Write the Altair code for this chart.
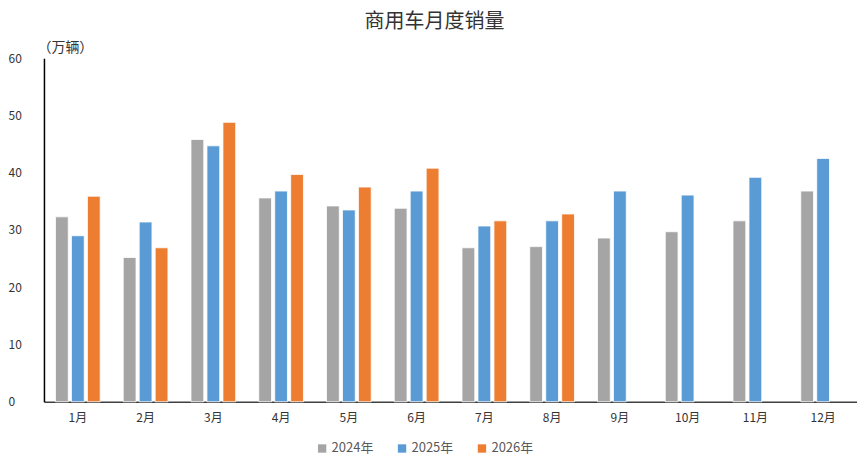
import altair as alt
import pandas as pd

months = ["1月", "2月", "3月", "4月", "5月", "6月", "7月", "8月", "9月", "10月", "11月", "12月"]
years = ["2024年", "2025年", "2026年"]
sales_2024 = [32.3, 25.2, 45.8, 35.6, 34.2, 33.8, 26.9, 27.1, 28.6, 29.7, 31.6, 36.8]
sales_2025 = [29.0, 31.4, 44.7, 36.8, 33.5, 36.8, 30.7, 31.6, 36.8, 36.1, 39.2, 42.5]
sales_2026 = [35.9, 26.9, 48.8, 39.7, 37.5, 40.8, 31.6, 32.8]
colors = ["#A5A5A5", "#5B9BD5", "#ED7D31"]

rows = []
for year, series in zip(years, [sales_2024, sales_2025, sales_2026]):
    for month, value in zip(months, series):
        rows.append({"month": month, "year": year, "sales": value})
df = pd.DataFrame(rows)

font = "Noto Sans CJK SC"

bars = (
    alt.Chart(df)
    .mark_bar(stroke="white", strokeWidth=0.8)
    .encode(
        x=alt.X(
            "month:N",
            sort=months,
            scale=alt.Scale(paddingInner=0.34, paddingOuter=0.17),
            axis=alt.Axis(
                title=None,
                labelAngle=0,
                ticks=False,
                domainColor="#404040",
                domainWidth=1.5,
                labelPadding=11,
                labelFontSize=12,
                labelColor="#333333",
                labelFont=font,
            ),
        ),
        xOffset=alt.XOffset(
            "year:N",
            sort=years,
            scale=alt.Scale(domain=years, paddingInner=0.2),
        ),
        y=alt.Y(
            "sales:Q",
            scale=alt.Scale(domain=[0, 60]),
            axis=alt.Axis(
                values=[0, 10, 20, 30, 40, 50, 60],
                grid=False,
                ticks=False,
                domainColor="#000000",
                domainWidth=1.5,
                labelPadding=36,
                labelAlign="left",
                labelFontSize=12,
                labelColor="#333333",
                labelFont=font,
                title="（万辆）",
                titleAngle=0,
                titleAlign="left",
                titleBaseline="middle",
                titleX=-7,
                titleY=-11,
                titleFontSize=14,
                titleFontWeight="normal",
                titleColor="#333333",
                titleFont=font,
            ),
        ),
        color=alt.Color(
            "year:N",
            scale=alt.Scale(domain=years, range=colors),
            legend=alt.Legend(
                title=None,
                orient="none",
                direction="horizontal",
                legendX=272,
                legendY=384,
                symbolType="square",
                symbolSize=70,
                symbolStrokeWidth=0,
                labelFontSize=13,
                labelColor="#595959",
                labelFont=font,
                columnPadding=22,
                labelOffset=3,
            ),
        ),
    )
)

chart = (
    bars.properties(
        width=814,
        height=344,
        autosize=alt.AutoSizeParams(type="none"),
        padding={"left": 36, "top": 50, "right": 0, "bottom": 55},
        title=alt.TitleParams(
            "商用车月度销量",
            fontSize=20,
            font=font,
            fontWeight="normal",
            color="#333333",
            offset=8,
            dx=-16,
        ),
    )
    .configure_view(stroke=None)
)

chart.save("out.html", embed_options={"renderer": "svg", "actions": False})
